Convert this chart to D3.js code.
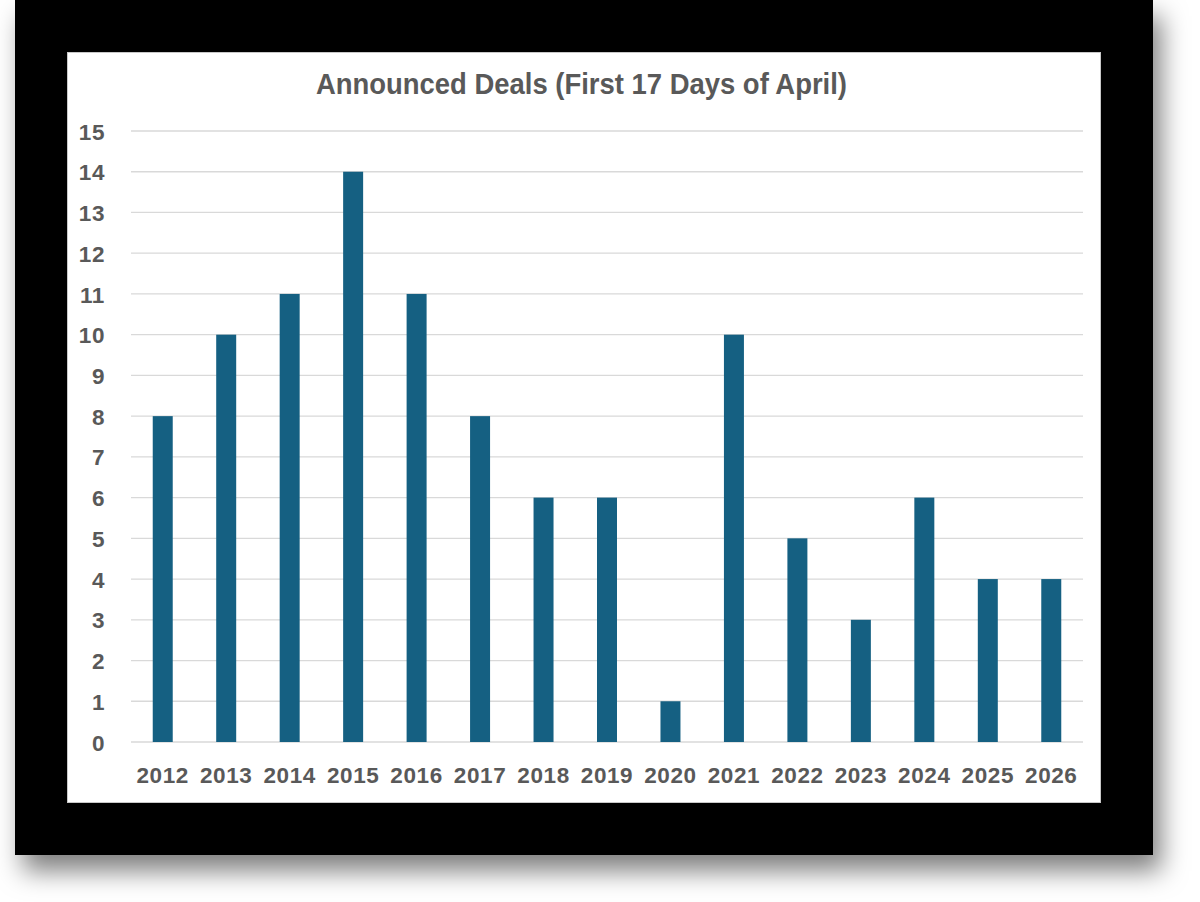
<!DOCTYPE html>
<html>
<head>
<meta charset="utf-8">
<script src="https://cdn.jsdelivr.net/npm/d3@7"></script>
<style>
  html, body { margin: 0; padding: 0; background: #ffffff; }
  svg { display: block; }
</style>
</head>
<body>
<svg id="chart" width="1200" height="902"></svg>
<script>
const categories = ["2012","2013","2014","2015","2016","2017","2018","2019","2020","2021","2022","2023","2024","2025","2026"];
const values = [8, 10, 11, 14, 11, 8, 6, 6, 1, 10, 5, 3, 6, 4, 4];
const yTicks = [0,1,2,3,4,5,6,7,8,9,10,11,12,13,14,15];
const title = "Announced Deals (First 17 Days of April)";

const svg = d3.select("#chart");
const defs = svg.append("defs");
const f = defs.append("filter").attr("id", "shadow")
  .attr("x", "-10%").attr("y", "-10%").attr("width", "130%").attr("height", "130%");
f.append("feDropShadow").attr("dx", 8).attr("dy", 16).attr("stdDeviation", 13)
  .attr("flood-color", "#000").attr("flood-opacity", 0.5);

// black frame with shadow
svg.append("rect").attr("x", 15).attr("y", 0).attr("width", 1138).attr("height", 855)
  .attr("fill", "#000").attr("filter", "url(#shadow)");

// white chart area
svg.append("rect").attr("x", 67.5).attr("y", 52.5).attr("width", 1033).attr("height", 750)
  .attr("fill", "#fff").attr("stroke", "#c8c8c8").attr("stroke-width", 1);

const margin = { left: 131, right: 1083, top: 131, bottom: 742 };
const x = d3.scaleBand().domain(categories).range([margin.left, margin.right]).paddingInner(0.685).paddingOuter(0.3425);
const y = d3.scaleLinear().domain([0, 15]).range([margin.bottom, margin.top]);

// gridlines
svg.append("g").selectAll("line").data(yTicks).join("line")
  .attr("x1", margin.left).attr("x2", margin.right)
  .attr("y1", d => y(d)).attr("y2", d => y(d))
  .attr("stroke", "#d9d9d9").attr("stroke-width", 1.3);

// bars
svg.append("g").selectAll("rect").data(values).join("rect")
  .attr("x", (d, i) => x(categories[i]))
  .attr("width", x.bandwidth())
  .attr("y", d => y(d))
  .attr("height", d => y(0) - y(d))
  .attr("fill", "#156082");

// y axis labels
const yAxis = d3.axisLeft(y).tickValues(yTicks).tickSize(0).tickPadding(0).tickFormat(d3.format("d"));
const gy = svg.append("g").attr("transform", "translate(105,0)").call(yAxis);
gy.select(".domain").remove();
gy.selectAll("text").attr("font-family", "Liberation Sans, Arial, sans-serif")
  .attr("font-weight", "bold").attr("font-size", 22.5).attr("fill", "#595959")
  .attr("letter-spacing", 0.6)
  .attr("dy", "0.36em");

// x axis labels
const xAxis = d3.axisBottom(x).tickSize(0).tickPadding(0);
const gx = svg.append("g").attr("transform", "translate(0,742)").call(xAxis);
gx.select(".domain").remove();
gx.selectAll("text").attr("font-family", "Liberation Sans, Arial, sans-serif")
  .attr("font-weight", "bold").attr("font-size", 22.5).attr("fill", "#595959")
  .attr("letter-spacing", 0.6)
  .attr("y", 41).attr("dy", 0);

// title
svg.append("text").attr("x", 316).attr("y", 94)
  .attr("textLength", 531).attr("lengthAdjust", "spacingAndGlyphs")
  .attr("font-family", "Liberation Sans, Arial, sans-serif")
  .attr("font-weight", "bold").attr("font-size", 29).attr("fill", "#595959")
  .text(title);
</script>
</body>
</html>
